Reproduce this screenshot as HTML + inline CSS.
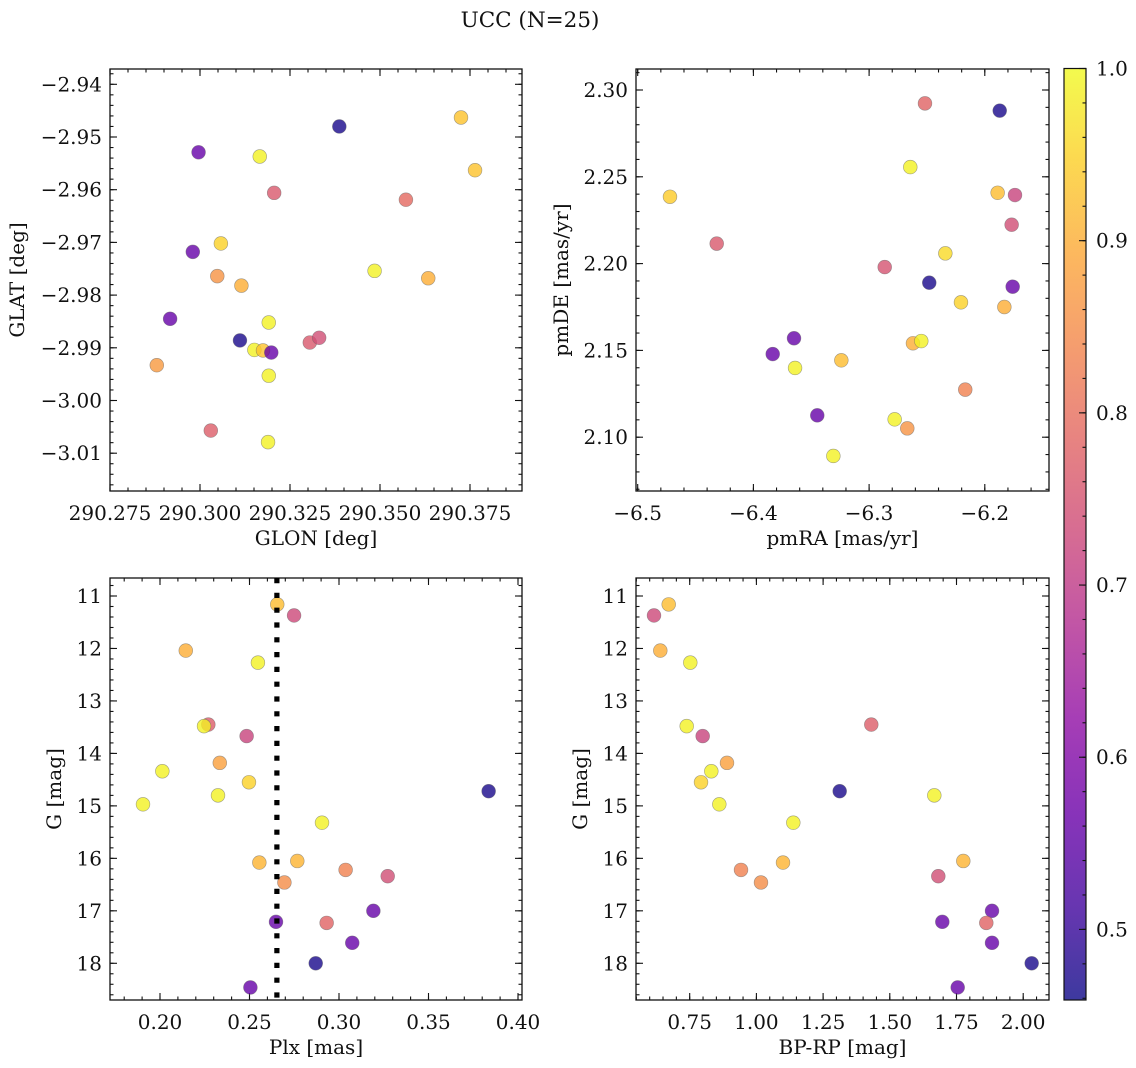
<!DOCTYPE html>
<html><head><meta charset="utf-8"><title>UCC (N=25)</title>
<style>
html,body{margin:0;padding:0;background:#fff;}
svg{display:block;font-family:"DejaVu Serif","Liberation Serif",serif;}
</style></head>
<body>
<svg id="fig" width="1136" height="1068" viewBox="0 0 1136 1068" xmlns="http://www.w3.org/2000/svg">
<text x="530" y="27" font-size="21.5" text-anchor="middle" fill="#111">UCC (N=25)</text>
</svg>
<script>
// ---- data (per star) ----
const glon = [290.3725,290.3387,290.2996,290.3166,290.3764,290.3206,290.3572,290.3058,290.2980,290.3048,290.3115,290.3485,290.3634,290.2917,290.3191,290.3111,290.3151,290.3175,290.3198,290.3305,290.3331,290.2880,290.3191,290.3030,290.3189];
const glat = [-2.9463,-2.9480,-2.9529,-2.9537,-2.9563,-2.9606,-2.9619,-2.9702,-2.9718,-2.9764,-2.9782,-2.9754,-2.9768,-2.9845,-2.9852,-2.9886,-2.9904,-2.9905,-2.9909,-2.9890,-2.9881,-2.9933,-2.9953,-3.0057,-3.0079];
const probSky = [0.93,0.47,0.56,0.99,0.93,0.76,0.79,0.95,0.56,0.86,0.90,0.99,0.90,0.56,0.99,0.47,0.99,0.93,0.56,0.76,0.74,0.87,0.99,0.77,0.99];

const pmra = [-6.2517,-6.1871,-6.2644,-6.4721,-6.1889,-6.1739,-6.1768,-6.4317,-6.2341,-6.2865,-6.2480,-6.1759,-6.2206,-6.1831,-6.3649,-6.3833,-6.2621,-6.2549,-6.3240,-6.3640,-6.2169,-6.3448,-6.2779,-6.2670,-6.3309];
const pmde = [2.2923,2.2881,2.2556,2.2385,2.2408,2.2395,2.2224,2.2115,2.2059,2.1980,2.1890,2.1867,2.1777,2.1750,2.1570,2.1479,2.1541,2.1554,2.1443,2.1399,2.1274,2.1126,2.1103,2.1051,2.0892];
const probPm = [0.78,0.47,0.99,0.94,0.92,0.72,0.74,0.76,0.96,0.75,0.47,0.56,0.95,0.90,0.56,0.56,0.90,0.99,0.92,0.99,0.83,0.56,0.99,0.86,0.99];

const plx  = [0.2655,0.2749,0.2144,0.2547,0.2270,0.2246,0.2484,0.2334,0.2013,0.2497,0.3836,0.2324,0.1905,0.2905,0.2555,0.2767,0.3037,0.3272,0.2695,0.3192,0.2648,0.2931,0.3074,0.2870,0.2505];
const gmag = [11.16,11.37,12.04,12.27,13.45,13.48,13.67,14.18,14.34,14.55,14.72,14.80,14.97,15.32,16.08,16.05,16.22,16.34,16.46,17.00,17.21,17.23,17.61,18.00,18.46];
const bprp = [0.6713,0.6162,0.6398,0.7522,1.4306,0.7388,0.7987,0.8898,0.8310,0.7924,1.3122,1.6668,0.8610,1.1383,1.0997,1.7755,0.9423,1.6818,1.0172,1.8831,1.6968,1.8617,1.8831,2.0318,1.7545];
const probPh = [0.92,0.73,0.90,0.99,0.77,0.99,0.72,0.88,0.99,0.95,0.47,0.99,0.99,0.99,0.91,0.91,0.83,0.74,0.85,0.56,0.56,0.78,0.56,0.47,0.56];
const plxLine = [0.2653];

const cbTicks = [0.5,0.6,0.7,0.8,0.9,1.0];
const vmin = 0.459, vmax = 1.0;

// ---- helpers ----
const NS = "http://www.w3.org/2000/svg";
const svg = document.getElementById('fig');
const FS = 20;
function mk(tag, attrs, parent){
  const e = document.createElementNS(NS, tag);
  for (const k in attrs) e.setAttribute(k, attrs[k]);
  (parent||svg).appendChild(e); return e;
}
const plasma = [[13,8,135],[65,4,157],[106,0,168],[143,13,164],[177,42,144],[204,71,120],[225,100,98],[242,132,75],[252,166,54],[252,206,37],[240,249,33]];
function cmap(p){
  let t = (p - vmin)/(vmax - vmin); t = Math.max(0, Math.min(1, t));
  const f = t*10, i = Math.min(9, Math.floor(f)), r = f - i;
  const a = plasma[i], b = plasma[i+1];
  return 'rgb(' + [0,1,2].map(j => Math.round(a[j] + (b[j]-a[j])*r)).join(',') + ')';
}
function ticks(lo, hi, step){
  const out = []; let k = Math.ceil(lo/step - 1e-7);
  for (; k*step <= hi + 1e-7; k++) out.push(+(k*step).toFixed(8));
  return out;
}
function fmt(v, d){ return v.toFixed(d).replace('-', '\u2212'); }

function panel(o){
  const g = mk('g', {});
  
  
  const sx = v => o.px0 + (v - o.xlo)/(o.xhi - o.xlo)*(o.px1 - o.px0);
  const sy = o.invert
    ? v => o.py0 + (v - o.ylo)/(o.yhi - o.ylo)*(o.py1 - o.py0)
    : v => o.py1 - (v - o.ylo)/(o.yhi - o.ylo)*(o.py1 - o.py0);
  const fr = mk('rect', {x:o.px0, y:o.py0, width:o.px1-o.px0, height:o.py1-o.py0, fill:'none', stroke:'#111', 'stroke-width':1.3}, g);
  
  
  const tg = mk('g', {stroke:'#111','stroke-width':1.1}, g);
  ticks(o.xlo, o.xhi, o.xminor).forEach(v => { const x = sx(v);
    mk('line',{x1:x,x2:x,y1:o.py1,y2:o.py1-3.5},tg); mk('line',{x1:x,x2:x,y1:o.py0,y2:o.py0+3.5},tg); });
  ticks(o.ylo, o.yhi, o.yminor).forEach(v => { const y = sy(v);
    mk('line',{x1:o.px0,x2:o.px0+3.5,y1:y,y2:y},tg); mk('line',{x1:o.px1,x2:o.px1-3.5,y1:y,y2:y},tg); });
  ticks(o.xlo, o.xhi, o.xmajor).forEach(v => { const x = sx(v);
    mk('line',{x1:x,x2:x,y1:o.py1,y2:o.py1-7},tg); mk('line',{x1:x,x2:x,y1:o.py0,y2:o.py0+7},tg);
    const t = mk('text',{x:x,y:o.py1+29,'font-size':FS,'text-anchor':'middle',fill:'#111',stroke:'none'},g);
    t.textContent = fmt(v, o.xdec);
    
     });
  ticks(o.ylo, o.yhi, o.ymajor).forEach(v => { const y = sy(v);
    mk('line',{x1:o.px0,x2:o.px0+7,y1:y,y2:y},tg); mk('line',{x1:o.px1,x2:o.px1-7,y1:y,y2:y},tg);
    const t = mk('text',{x:o.px0-8,y:y+7,'font-size':FS,'text-anchor':'end',fill:'#111',stroke:'none'},g);
    t.textContent = fmt(v, o.ydec);
    
     });
  const xt = mk('text',{x:(o.px0+o.px1)/2,y:o.py1+54,'font-size':FS,'text-anchor':'middle',fill:'#111'},g);
  xt.textContent = o.xlabel;
  
  
  const yx = o.ylabelX, yy = (o.py0+o.py1)/2;
  const yt = mk('text',{x:yx,y:yy,'font-size':FS,'text-anchor':'middle',fill:'#111',transform:'rotate(-90 '+yx+' '+yy+')'},g);
  yt.textContent = o.ylabel;
  
  
  const cid = 'clip-' + o.name;
  const cp = mk('clipPath',{id:cid},g);
  mk('rect',{x:o.px0,y:o.py0,width:o.px1-o.px0,height:o.py1-o.py0},cp);
  const pg = mk('g',{'clip-path':'url(#'+cid+')'},g);
  o.xs.forEach((xv, i) => {
    const c = mk('circle',{cx:sx(xv), cy:sy(o.ys[i]), r:6.9, fill:cmap(o.ps[i]), 'fill-opacity':0.8, stroke:'#666', 'stroke-opacity':0.6, 'stroke-width':0.6}, pg);
    
    
  });
  if (o.vlines) o.vlines.forEach(v => {
    const l = mk('line',{x1:sx(v),x2:sx(v),y1:o.py0,y2:o.py1,stroke:'#000','stroke-width':5.2,'stroke-dasharray':'5.2 9.6'},pg);
    
    
  });
}

panel({name:'sky-panel', px0:110, px1:522, py0:69, py1:491,
  xlo:290.275, xhi:290.275+412/3600, ylo:-2.94-406.7/5270, yhi:-2.94+15.3/5270,
  xmajor:0.025, xminor:0.005, ymajor:0.01, yminor:0.002, xdec:3, ydec:2,
  xlabel:'GLON [deg]', ylabel:'GLAT [deg]', ylabelX:24, xs:glon, ys:glat, ps:probSky});

panel({name:'pm-panel', px0:636, px1:1049, py0:69, py1:491,
  xlo:-6.5-1.7/1157, xhi:-6.5+411.3/1157, ylo:2.30-401/1736, yhi:2.30+21/1736,
  xmajor:0.1, xminor:0.02, ymajor:0.05, yminor:0.01, xdec:1, ydec:2,
  xlabel:'pmRA [mas/yr]', ylabel:'pmDE [mas/yr]', ylabelX:568, xs:pmra, ys:pmde, ps:probPm});

panel({name:'plx-panel', px0:110, px1:522, py0:578, py1:1000, invert:true,
  xlo:0.20-50/1790, xhi:0.20+362/1790, ylo:11-18/52.47, yhi:11+404/52.47,
  xmajor:0.05, xminor:0.01, ymajor:1, yminor:0.2, xdec:2, ydec:0,
  xlabel:'Plx [mas]', ylabel:'G [mag]', ylabelX:61, xs:plx, ys:gmag, ps:probPh, vlines:plxLine});

panel({name:'cmd-panel', px0:636, px1:1049, py0:578, py1:1000, invert:true,
  xlo:0.75-53.7/266.8, xhi:0.75+359.3/266.8, ylo:11-18/52.47, yhi:11+404/52.47,
  xmajor:0.25, xminor:0.05, ymajor:1, yminor:0.2, xdec:2, ydec:0,
  xlabel:'BP-RP [mag]', ylabel:'G [mag]', ylabelX:587, xs:bprp, ys:gmag, ps:probPh});

(function(){
  const x0 = 1064, x1 = 1086, y0 = 68.5, y1 = 1000;
  const cg = mk('g',{});
  
  
  const defs = mk('defs',{},cg);
  const lg = mk('linearGradient',{id:'plasmaGrad',x1:0,y1:1,x2:0,y2:0},defs);
  for (let i = 0; i <= 20; i++){
    const p = vmin + (vmax - vmin)*i/20;
    mk('stop',{offset:(i/20), 'stop-color':cmap(p), 'stop-opacity':0.8},lg);
  }
  const r = mk('rect',{x:x0,y:y0,width:x1-x0,height:y1-y0,fill:'url(#plasmaGrad)',stroke:'#111','stroke-width':1.2},cg);
  
  
  const sy = v => y1 - (v - vmin)/(vmax - vmin)*(y1 - y0);
  ticks(vmin, vmax, 0.02).forEach(v => { const y = sy(v);
    mk('line',{x1:x1,x2:x1-3.5,y1:y,y2:y,stroke:'#111','stroke-width':1.1},cg); });
  cbTicks.forEach(v => { const y = sy(v);
    mk('line',{x1:x1,x2:x1-7,y1:y,y2:y,stroke:'#111','stroke-width':1.1},cg);
    const t = mk('text',{x:x1+10,y:y+7,'font-size':FS,fill:'#111'},cg);
    t.textContent = v.toFixed(1);
    
     });
})();
</script>
</body></html>
